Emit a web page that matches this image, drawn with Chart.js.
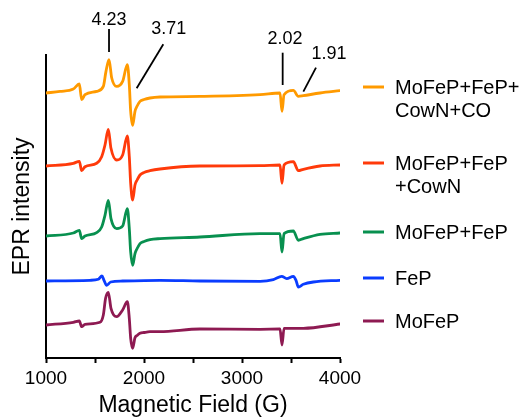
<!DOCTYPE html>
<html>
<head>
<meta charset="utf-8">
<script src="https://cdn.jsdelivr.net/npm/chart.js@4.4.1/dist/chart.umd.min.js"></script>
<style>
  html, body { margin: 0; padding: 0; background: #fff; }
  #wrap { width: 522px; height: 419px; }
</style>
</head>
<body>
<div id="wrap"><canvas id="epr"></canvas></div>
<script>
// series names (legend, top to bottom)
const seriesNames = [
  ['MoFeP+FeP+', 'CowN+CO'],
  ['MoFeP+FeP', '+CowN'],
  ['MoFeP+FeP'],
  ['FeP'],
  ['MoFeP']
];
const seriesColors = ['#ff9a00', '#ff3a0a', '#08904f', '#0a3cff', '#8e1a52'];
// vertical stacking offset of each trace (arb. units)
const offsets = [265, 192, 122, 77, 33];

// spectra: [field (G), intensity relative to own baseline]
const specCO = [[1000,0],[1143,1.6],[1279,4],[1340,9],[1364,-6.7],[1398,-1.7],[1517,1.6],[1585,6.6],[1612,21.6],[1643,33.3],[1670,15.3],[1721,6.6],[1782,11.6],[1830,28.3],[1850,8.3],[1864,-18.4],[1884,-32.4],[1908,-18.4],[1930,-13],[1959,-8.4],[2000,-6.5],[2061,-5],[2163,-4],[2571,-3.4],[3184,-1.7],[3388,0],[3408,-18.4],[3429,-1.7],[3524,2.6],[3575,-3.4],[3626,-2.7],[3796,0],[4000,2.3]];
const specCowN = [[1000,0],[1279,2.7],[1340,4.7],[1364,-4.7],[1398,-0.7],[1517,2.7],[1568,9.3],[1602,21],[1636,36.7],[1663,17.7],[1721,6],[1782,11],[1830,30],[1850,9.3],[1864,-17.3],[1884,-34],[1908,-19],[1930,-14],[1959,-9],[2000,-6.5],[2061,-4.7],[2163,-3],[2571,0],[3184,0.3],[3388,1],[3408,-17.3],[3429,1],[3524,4.3],[3575,-4.7],[3626,-3.3],[3796,0],[4000,1]];
const specMoFeFe = [[1000,0],[1279,3],[1340,5.7],[1364,-2.6],[1398,0],[1517,3.4],[1568,9],[1602,20.7],[1636,35.7],[1663,17.4],[1721,7.4],[1782,10],[1830,27.4],[1850,7.4],[1864,-16],[1884,-29.3],[1908,-17.6],[1930,-12.5],[1959,-7.6],[2000,-5.5],[2061,-3.6],[2163,-2.6],[2571,-1],[3184,2.4],[3388,2.4],[3408,-16],[3429,2.4],[3524,5],[3575,-4.3],[3626,-2.6],[3796,1.7],[4000,3]];
const specFeP = [[1000,0],[1449,0.7],[1534,1.7],[1571,5],[1592,0.7],[1619,-4.3],[1660,-1],[1782,0],[2163,0.7],[2571,0],[3184,-0.3],[3320,1.4],[3405,4.7],[3456,2.4],[3524,4.7],[3551,0.7],[3575,-6],[3626,-3.3],[3728,-1],[4000,0.7]];
const specMoFeP = [[1000,0],[1279,2.7],[1340,4],[1364,-1.7],[1398,0.7],[1551,2.7],[1585,10],[1608,26.7],[1636,32.7],[1663,16.7],[1721,8.3],[1782,15],[1830,23.3],[1850,6.7],[1864,-13.3],[1884,-23.3],[1908,-12.7],[1930,-10.5],[1959,-8.3],[2000,-7.5],[2061,-6.7],[2163,-6.7],[2571,-4],[3184,-4.3],[3388,-4],[3408,-20],[3429,-3.3],[3626,-3.3],[4000,1]];
const spectra = [specCO, specCowN, specMoFeFe, specFeP, specMoFeP];

// x axis ticks
const xMin = 1000, xMax = 4000, xStep = 500;
const xLabelEvery = 1000;

// g-value annotations: label, text pos, leader line (start, end) in data units
const gLabels = ['4.23', '3.71', '2.02', '1.91'];
const gText = [[1643, 337.5], [2253, 329], [3439, 319], [3888, 304.3]];
const gLineFrom = [[1643, 329], [2197, 313.7], [3415, 305.3], [3755, 290.3]];
const gLineTo = [[1643, 306], [1925, 269.7], [3415, 273], [3626, 266.3]];

const FONT = "'Liberation Sans', Arial, sans-serif";

const datasets = spectra.map((s, i) => ({
  label: seriesNames[i].join(' '),
  data: s.map(p => ({ x: p[0], y: p[1] + offsets[i] })),
  borderColor: seriesColors[i],
  borderWidth: 2.8,
  pointRadius: 0,
  cubicInterpolationMode: 'monotone',
  borderJoinStyle: 'round',
  borderCapStyle: 'round'
}));

const extras = {
  id: 'extras',
  afterDatasetsDraw(chart) {
    const c = chart.ctx;
    const xs = chart.scales.x, ys = chart.scales.y;
    c.save();
    // g-value labels
    c.strokeStyle = '#000';
    c.lineWidth = 1.8;
    c.fillStyle = '#000';
    c.font = '18px ' + FONT;
    c.textAlign = 'center';
    c.textBaseline = 'middle';
    gLabels.forEach((t, i) => {
      c.beginPath();
      c.moveTo(xs.getPixelForValue(gLineFrom[i][0]), ys.getPixelForValue(gLineFrom[i][1]));
      c.lineTo(xs.getPixelForValue(gLineTo[i][0]), ys.getPixelForValue(gLineTo[i][1]));
      c.stroke();
      c.fillText(t, xs.getPixelForValue(gText[i][0]), ys.getPixelForValue(gText[i][1]));
    });
    // legend, one entry beside each trace
    const legY = [87, 163, 232, 278, 321];
    c.font = '20px ' + FONT;
    c.textAlign = 'left';
    seriesNames.forEach((lines, i) => {
      c.strokeStyle = seriesColors[i];
      c.lineWidth = 3;
      c.beginPath();
      c.moveTo(363, legY[i]);
      c.lineTo(384, legY[i]);
      c.stroke();
      lines.forEach((ln, k) => c.fillText(ln, 395, legY[i] + k * 23 + 1));
    });
    c.restore();
  }
};

new Chart(document.getElementById('epr'), {
  type: 'line',
  data: { datasets },
  options: {
    responsive: true,
    maintainAspectRatio: false,
    animation: false,
    layout: { padding: { left: 0, right: 182, top: 55, bottom: 0 } },
    plugins: { legend: { display: false }, tooltip: { enabled: false } },
    scales: {
      x: {
        type: 'linear',
        min: xMin,
        max: xMax,
        afterFit(s) { s.height = 61; },
        ticks: {
          stepSize: xStep,
          autoSkip: false,
          maxRotation: 0,
          padding: 4,
          color: '#000',
          font: { family: FONT, size: 19 },
          callback: v => (v % xLabelEvery === 0 ? v : '')
        },
        grid: { display: true, drawOnChartArea: false, drawTicks: true, tickLength: 5, color: '#000', tickWidth: 2 },
        border: { display: true, color: '#000', width: 2 },
        title: {
          display: true,
          text: 'Magnetic Field (G)',
          color: '#000',
          font: { family: FONT, size: 23 },
          padding: { top: 0, bottom: 0 }
        }
      },
      y: {
        type: 'linear',
        min: 0,
        max: 303,
        afterFit(s) { s.width = 46; },
        ticks: { display: false },
        grid: { display: false, drawTicks: false },
        border: { display: true, color: '#000', width: 2 },
        title: {
          display: true,
          text: 'EPR intensity',
          color: '#000',
          font: { family: FONT, size: 23 },
          padding: { top: 9, bottom: 0 }
        }
      }
    }
  },
  plugins: [extras]
});
</script>
</body>
</html>
